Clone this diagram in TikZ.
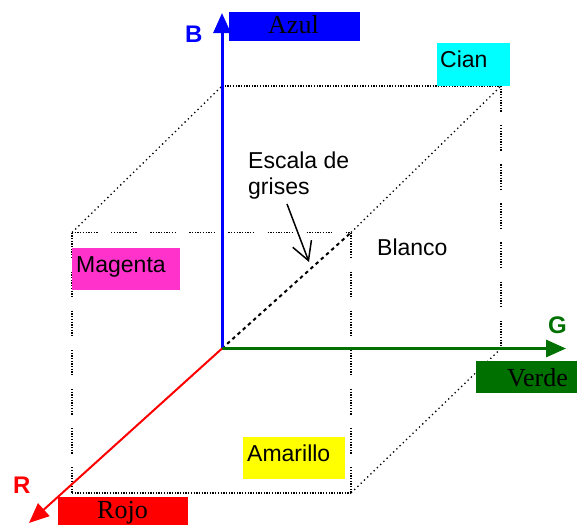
\documentclass[tikz,border=0pt]{standalone}
\usepackage{fontspec}
\setmainfont{Liberation Serif}
\setsansfont{Liberation Sans}
\usetikzlibrary{arrows.meta}
\definecolor{magbox}{RGB}{255,51,204}
\definecolor{verde}{RGB}{0,112,0}
\definecolor{cianc}{RGB}{0,255,255}
\definecolor{amar}{RGB}{255,255,0}
\definecolor{rojoc}{RGB}{255,0,0}
\definecolor{azulc}{RGB}{0,0,255}
\begin{document}
\begin{tikzpicture}[x=1pt,y=-1pt,
  dotl/.style={black, line width=1.3pt, dash pattern=on 1.3pt off 1.4pt},
  sparse/.style={black, line width=1.3pt, dash pattern=on 1.3pt off 3.2pt},
  gapdot/.style={black, line width=1.3pt, dash pattern=on 1.3pt off 1.4pt on 1.3pt off 1.4pt on 1.3pt off 1.4pt on 1.3pt off 1.4pt on 1.3pt off 1.4pt on 1.3pt off 1.4pt on 1.3pt off 1.4pt on 1.3pt off 1.4pt on 1.3pt off 1.4pt on 1.3pt off 13.5pt},
  gray/.style={black, line width=2pt, dash pattern=on 3.5pt off 3.5pt},
  box/.style={draw=none, inner sep=0pt, anchor=north west},
  serif/.style={inner sep=0pt, anchor=base west, font=\fontsize{26}{30}\selectfont\rmfamily},
  sans/.style={inner sep=0pt, anchor=base west, font=\fontsize{23}{27}\selectfont\sffamily},
  axlab/.style={inner sep=0pt, anchor=base west, font=\fontsize{24}{28}\selectfont\sffamily\bfseries},
  axisarrow/.style={-{Triangle[length=20pt,width=17pt]}},
]
\useasboundingbox (0,0) rectangle (577,525);
% cube corners
\coordinate (O) at (222,348.5);
\coordinate (Bc) at (222,86);
\coordinate (C) at (501,86);
\coordinate (G) at (501,348.5);
\coordinate (M) at (72,232.5);
\coordinate (W) at (351,232.5);
\coordinate (R) at (72,493);
\coordinate (Y) at (351,493);
\coordinate (Btip) at (222,13);
\coordinate (Gtip) at (566,348.5);
\coordinate (Rtip) at (29,523);
% cube edges
\draw[dotl] (Bc) -- (C);
\draw[dotl] (R) -- (Y);
\draw[gapdot] (M) -- (W);
\draw[gapdot] (M) -- (R);
\draw[gapdot] (W) -- (Y);
\draw[gapdot] (C) -- (G);
\draw[sparse] (M) -- (Bc);
\draw[sparse] (W) -- (C);
\draw[sparse] (Y) -- (G);
\draw[gray] (O) -- (W);
% colour boxes
\node[box, fill=azulc, minimum width=131pt, minimum height=29pt] (azulbox) at (229,12) {};
\node[box, fill=cianc, minimum width=73pt, minimum height=43pt] (cianbox) at (437,43) {};
\node[box, fill=magbox, minimum width=108pt, minimum height=42pt] (magbox) at (72,248) {};
\node[box, fill=amar, minimum width=102pt, minimum height=42pt] (amabox) at (243,437) {};
\node[box, fill=rojoc, minimum width=130pt, minimum height=28pt] (rojobox) at (58,497) {};
\node[box, fill=verde, minimum width=101pt, minimum height=32pt] (verdebox) at (476,361) {};
% texts
\node[serif] (azul) at (268,33) {Azul};
\node[serif] (rojo) at (97,518.5) {Rojo};
\node[serif] (verdet) at (507,386) {Verde};
\node[sans] (cian) at (440,67) {Cian};
\node[sans] (magenta) at (76,272) {Magenta};
\node[sans] (amarillo) at (247,461) {Amarillo};
\node[sans] (blanco) at (377,255) {Blanco};
\node[sans] (esc1) at (248,168) {Escala de};
\node[sans] (esc2) at (248,194) {grises};
\node[axlab, text=azulc] (Blab) at (185,42) {B};
\node[axlab, text=verde] (Glab) at (548,333) {G};
\node[axlab, text=rojoc] (Rlab) at (13,493) {R};
% pointer
\coordinate (ptail) at (287,204);
\coordinate (phead) at (309,262);
\draw[line width=1.5pt, -{Straight Barb[length=18pt,width=20pt]}] (ptail) -- (phead);
% axes
\draw[azulc, line width=3pt, axisarrow] (O) -- (Btip);
\draw[verde, line width=3pt, axisarrow] (O) -- (Gtip);
\draw[rojoc, line width=2pt, axisarrow] (O) -- (Rtip);
\end{tikzpicture}
\end{document}
